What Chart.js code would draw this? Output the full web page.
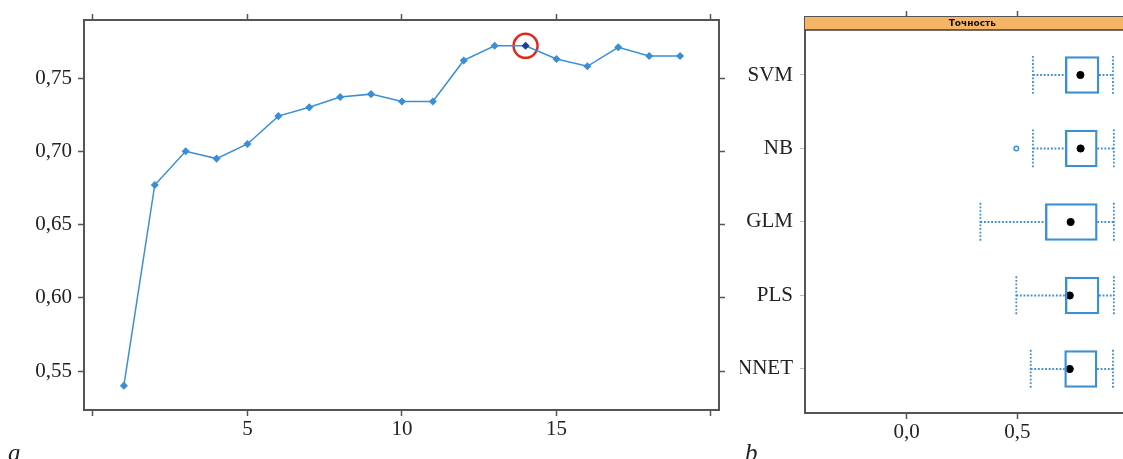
<!DOCTYPE html>
<html>
<head>
<meta charset="utf-8">
<script src="https://cdn.jsdelivr.net/npm/chart.js@4.4.0/dist/chart.umd.min.js"></script>
<style>
    html, body { margin: 0; padding: 0; background: #fff; width: 1123px; height: 459px; overflow: hidden; position: relative; }
    .panel { position: absolute; top: 0; height: 459px; }
    #leftPanel { left: 0; width: 740px; }
    #rightPanel { left: 740px; width: 405px; }
    .tag { position: absolute; font-family: "Liberation Serif", serif; font-style: italic; font-size: 25px; color: #222; line-height: 1; }
</style>
</head>
<body>
<div class="panel" id="leftPanel"><canvas id="tuneChart"></canvas></div>
<div class="panel" id="rightPanel"><canvas id="boxChart"></canvas></div>
<div class="tag" style="left:8px; top:440px;">a</div>
<div class="tag" style="left:745px; top:440px;">b</div>
<script>
// Panel a: accuracy vs tuning parameter
const kValues = [1, 2, 3, 4, 5, 6, 7, 8, 9, 10, 11, 12, 13, 14, 15, 16, 17, 18, 19];
const accuracy = [0.540, 0.677, 0.700, 0.695, 0.705, 0.724, 0.730, 0.737, 0.739, 0.734,
                  0.734, 0.762, 0.772, 0.772, 0.763, 0.758, 0.771, 0.765, 0.765];
const selectedK = 14;
const kTicks = [0, 5, 10, 15, 20];
const kTickLabels = ['', '5', '10', '15', ''];
const accTicks = [0.55, 0.60, 0.65, 0.70, 0.75];
const accTickLabels = ['0,55', '0,60', '0,65', '0,70', '0,75'];

// Panel b: resampled accuracy per model
const models = ['SVM', 'NB', 'GLM', 'PLS', 'NNET'];
const whiskerLow = [0.570, 0.570, 0.333, 0.495, 0.560];
const boxLow = [0.716, 0.716, 0.626, 0.716, 0.713];
const medians = [0.784, 0.785, 0.740, 0.736, 0.736];
const boxHigh = [0.868, 0.860, 0.860, 0.868, 0.859];
const whiskerHigh = [0.931, 0.935, 0.935, 0.935, 0.931];
const outliers = [[], [0.495], [], [], []];
const boxTicks = [0, 0.5];
const boxTickLabels = ['0,0', '0,5'];
const stripLabel = 'Точность';

const frameColor = '#555';
const lineBlue = '#3a8fd5';
const serif = { family: '"Liberation Serif", "DejaVu Serif", serif', size: 21 };

document.addEventListener('DOMContentLoaded', function() {
    // fixed axis sizes so the plot frames land where the figure has them
    function fixSize(size) {
        return function(scale) {
            if (scale.isHorizontal()) {
                scale.height = size;
            } else {
                scale.width = size;
                scale.paddingTop = 0;
                scale.paddingBottom = 0;
            }
        };
    }
    function setTicks(values) {
        return function(scale) { scale.ticks = values.map(v => ({ value: v })); };
    }
    function frameAxis(extra) {
        return Object.assign({
            offset: false,
            border: { display: true, color: frameColor, width: 2 },
            grid: { offset: false, drawOnChartArea: false, color: frameColor, tickColor: frameColor, tickLength: 6, tickWidth: 1.5 },
            ticks: { display: false }
        }, extra);
    }

    // ---- left chart ----
    const pointColors = kValues.map(k => k === selectedK ? '#1d3f95' : lineBlue);
    new Chart(document.getElementById('tuneChart'), {
        type: 'line',
        data: {
            datasets: [{
                data: kValues.map((k, i) => ({ x: k, y: accuracy[i] })),
                borderColor: lineBlue,
                borderWidth: 1.5,
                pointStyle: 'rectRot',
                pointRadius: 3,
                pointBackgroundColor: pointColors,
                pointBorderColor: pointColors,
                tension: 0
            }, {
                // red ring around the chosen value
                data: kValues.filter(k => k === selectedK).map(k => ({ x: k, y: accuracy[kValues.indexOf(k)] })),
                showLine: false,
                pointRadius: 12,
                pointBorderWidth: 2.5,
                pointBorderColor: '#e0281e',
                pointBackgroundColor: 'rgba(0,0,0,0)'
            }]
        },
        options: {
            responsive: true,
            maintainAspectRatio: false,
            animation: false,
            layout: { padding: 0 },
            plugins: { legend: { display: false }, tooltip: { enabled: false } },
            scales: {
                x: frameAxis({
                    type: 'linear', position: 'bottom', min: -0.29, max: 20.26,
                    afterBuildTicks: setTicks(kTicks), afterFit: fixSize(49),
                    ticks: { display: true, color: '#222', font: serif, padding: 1, maxRotation: 0,
                             callback: (v, i) => kTickLabels[i] }
                }),
                xTop: frameAxis({
                    type: 'linear', position: 'top', min: -0.29, max: 20.26,
                    afterBuildTicks: setTicks(kTicks), afterFit: fixSize(20)
                }),
                y: frameAxis({
                    type: 'linear', position: 'left', min: 0.5234, max: 0.7896,
                    afterBuildTicks: setTicks(accTicks), afterFit: fixSize(84),
                    ticks: { display: true, color: '#222', font: serif, padding: 6,
                             callback: (v, i) => accTickLabels[i] }
                }),
                yRight: frameAxis({
                    type: 'linear', position: 'right', min: 0.5234, max: 0.7896,
                    afterBuildTicks: setTicks(accTicks), afterFit: fixSize(21)
                })
            }
        }
    });

    // ---- right chart ----
    const rows = models.map((m, i) => i + 1);
    const capHalf = 0.26;
    const whiskerData = [];
    const capData = [];
    rows.forEach((r, i) => {
        whiskerData.push({ x: whiskerLow[i], y: r }, { x: boxLow[i], y: r }, { x: boxLow[i], y: null });
        whiskerData.push({ x: boxHigh[i], y: r }, { x: whiskerHigh[i], y: r }, { x: whiskerHigh[i], y: null });
        [whiskerLow[i], whiskerHigh[i]].forEach(w => {
            capData.push({ x: w, y: r - capHalf }, { x: w, y: r + capHalf }, { x: w, y: null });
        });
    });
    const outlierData = [];
    outliers.forEach((list, i) => list.forEach(v => outlierData.push({ x: v, y: rows[i] })));

    const stripPlugin = {
        id: 'strip',
        afterDatasetsDraw(chart) {
            const a = chart.chartArea;
            const ctx = chart.ctx;
            ctx.save();
            ctx.fillStyle = '#f5b466';
            ctx.fillRect(a.left, a.top, a.right - a.left, 13);
            ctx.strokeStyle = '#4a3a2a';
            ctx.lineWidth = 1.5;
            ctx.beginPath();
            ctx.moveTo(a.left, a.top + 13);
            ctx.lineTo(a.right, a.top + 13);
            ctx.stroke();
            ctx.fillStyle = '#111';
            ctx.font = 'bold 9px "DejaVu Sans", sans-serif';
            ctx.textAlign = 'center';
            ctx.textBaseline = 'middle';
            ctx.fillText(stripLabel, (a.left + a.right) / 2, a.top + 7);
            ctx.restore();
        }
    };

    new Chart(document.getElementById('boxChart'), {
        type: 'bar',
        data: {
            datasets: [{
                type: 'bar',
                indexAxis: 'y',
                data: rows.map((r, i) => ({ y: r, x: [boxLow[i], boxHigh[i]] })),
                backgroundColor: 'rgba(255,255,255,0)',
                borderColor: lineBlue,
                borderWidth: 1.7,
                borderSkipped: false,
                barThickness: 37
            }, {
                type: 'line',
                data: whiskerData,
                borderColor: lineBlue,
                borderWidth: 1.8,
                borderDash: [1.8, 1.8],
                pointRadius: 0,
                spanGaps: false
            }, {
                type: 'line',
                data: capData,
                borderColor: lineBlue,
                borderWidth: 1.8,
                borderDash: [1.8, 1.8],
                pointRadius: 0,
                spanGaps: false
            }, {
                type: 'scatter',
                data: rows.map((r, i) => ({ x: medians[i], y: r })),
                pointRadius: 3.6,
                pointBackgroundColor: '#000',
                pointBorderColor: '#000'
            }, {
                type: 'scatter',
                data: outlierData,
                pointRadius: 2.3,
                pointBorderWidth: 1.4,
                pointBackgroundColor: '#fff',
                pointBorderColor: lineBlue
            }]
        },
        options: {
            responsive: true,
            maintainAspectRatio: false,
            animation: false,
            layout: { padding: 0 },
            plugins: { legend: { display: false }, tooltip: { enabled: false } },
            scales: {
                x: frameAxis({
                    type: 'linear', position: 'bottom', min: -0.458, max: 1.051,
                    afterBuildTicks: setTicks(boxTicks), afterFit: fixSize(46),
                    ticks: { display: true, color: '#222', font: serif, padding: 1, maxRotation: 0,
                             callback: (v, i) => boxTickLabels[i] }
                }),
                xTop: frameAxis({
                    type: 'linear', position: 'top', min: -0.458, max: 1.051,
                    afterBuildTicks: setTicks(boxTicks), afterFit: fixSize(17)
                }),
                y: frameAxis({
                    type: 'linear', position: 'left', min: 0.211, max: 5.599, reverse: true,
                    afterBuildTicks: setTicks(rows), afterFit: fixSize(65),
                    grid: { offset: false, drawOnChartArea: false, tickColor: '#bbb', tickLength: 5, tickWidth: 1 },
                    ticks: { display: true, color: '#222', font: serif, padding: 7,
                             callback: (v, i) => models[i] }
                })
            }
        },
        plugins: [stripPlugin]
    });
});
</script>
</body>
</html>
